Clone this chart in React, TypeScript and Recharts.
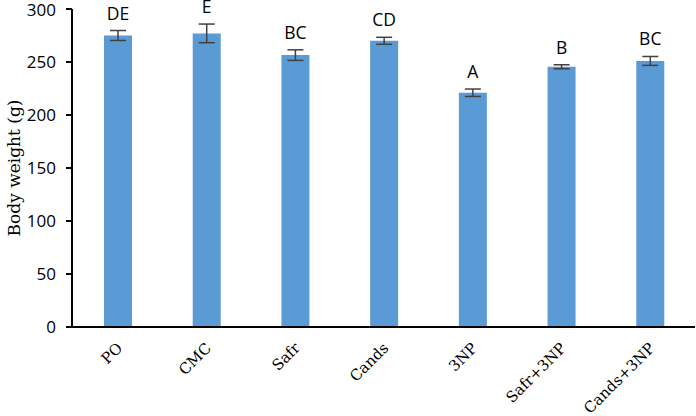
import React from 'react';
import { BarChart, Bar, XAxis, YAxis, ErrorBar, LabelList } from 'recharts';

const categories = ['PO', 'CMC', 'Safr', 'Cands', '3NP', 'Safr+3NP', 'Cands+3NP'];
const weights = [275, 277, 256.5, 270, 221, 245.5, 251];
const errors = [4.7, 8.8, 5, 3.3, 3.5, 1.9, 4.2];
const letters = ['DE', 'E', 'BC', 'CD', 'A', 'B', 'BC'];
const yTicks = [0, 50, 100, 150, 200, 250, 300];

const data = categories.map((c, i) => ({ name: c, wt: weights[i], err: errors[i], letter: letters[i] }));

const XTick = (props: any) => {
  const { x, y, payload } = props;
  const ax = x + 5;
  const ay = y + 14;
  return (
    <g transform={`translate(${ax},${ay})`}>
      <text
        x={0}
        y={0}
        transform="rotate(-45)"
        textAnchor="end"
        fontFamily="'DejaVu Serif', serif"
        fontSize={15}
        fill="#000"
      >
        {payload.value}
      </text>
    </g>
  );
};

const LetterLabel = (props: any) => {
  const { x, y, width, height, value, index } = props;
  const scale = height / weights[index];
  const errPx = errors[index] * scale;
  return (
    <text
      x={x + width / 2}
      y={y - errPx - 11}
      textAnchor="middle"
      fontFamily="'Open Sans', sans-serif"
      fontSize={17.5}
      fill="#000"
    >
      {value}
    </text>
  );
};

export default function App() {
  return (
    <div style={{ position: 'absolute', left: 0, top: 0, width: 696, height: 416, background: '#fff' }}>
      <BarChart width={696} height={416} data={data} margin={{ top: 9, right: 1, left: 0, bottom: 0 }}>
        <XAxis
          dataKey="name"
          height={89}
          axisLine={{ stroke: '#000', strokeWidth: 2 }}
          tickLine={false}
          tick={<XTick />}
          interval={0}
          padding={{ left: 2, right: 0 }}
        />
        <YAxis
          width={72}
          domain={[0, 300]}
          ticks={yTicks}
          axisLine={{ stroke: '#000', strokeWidth: 2 }}
          tickLine={{ stroke: '#000', strokeWidth: 2 }}
          tickSize={6}
          tickMargin={10}
          tick={{ fill: '#000', fontSize: 17, fontFamily: "'Open Sans', sans-serif" }}
          label={{
            value: 'Body weight (g)',
            angle: -90,
            position: 'insideLeft',
            offset: 0,
            dx: 14,
            style: { textAnchor: 'middle', fontFamily: "'DejaVu Serif', serif", fontSize: 17, fill: '#000' },
          }}
        />
        <Bar dataKey="wt" fill="#5B9BD5" barSize={28} isAnimationActive={false}>
          <ErrorBar dataKey="err" width={8} stroke="#404040" strokeWidth={1.5} isAnimationActive={false} />
          <LabelList dataKey="letter" content={<LetterLabel />} />
        </Bar>
      </BarChart>
    </div>
  );
}
